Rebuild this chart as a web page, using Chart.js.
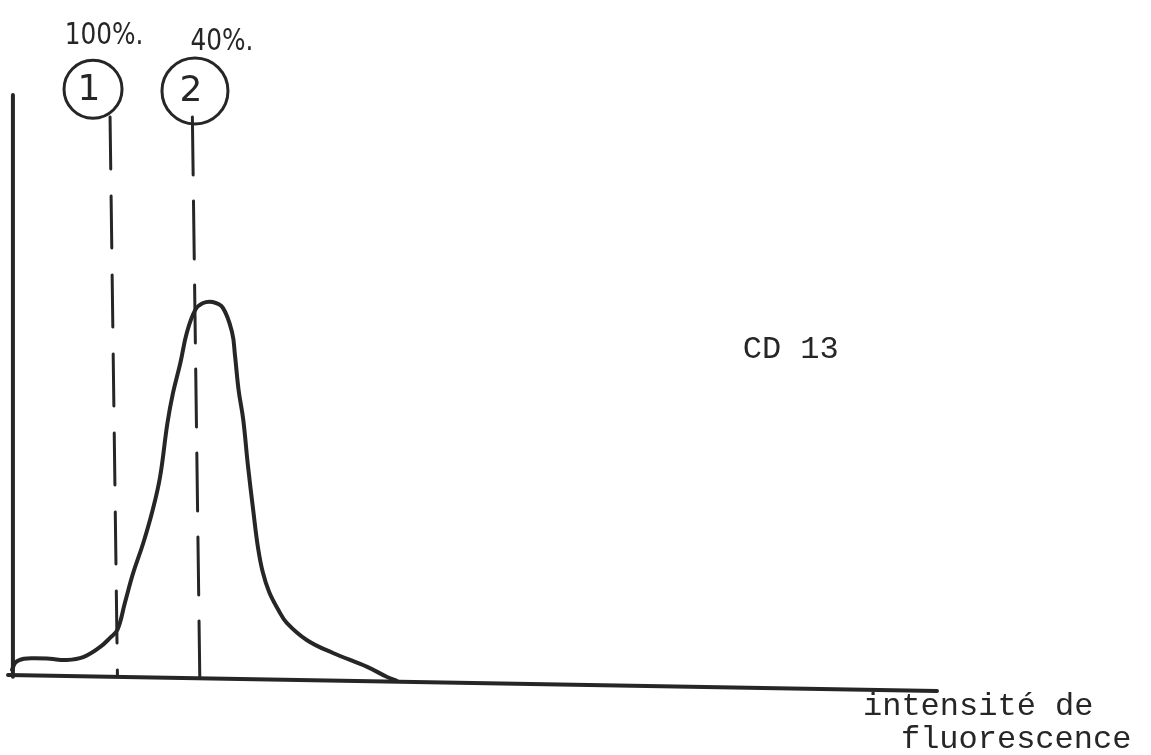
<!DOCTYPE html>
<html>
<head>
<meta charset="utf-8">
<script src="https://cdn.jsdelivr.net/npm/chart.js@4.4.1/dist/chart.umd.min.js"></script>
<style>
  html, body { margin: 0; padding: 0; background: #ffffff; }
  #graph { display: block; }
</style>
</head>
<body>
<canvas id="graph" width="1151" height="755"></canvas>
<script>
// Fluorescence histogram (CD 13): intensity (arbitrary units) vs. number of cells
const intensite = [0, 0.4, 1.3, 2.5, 4.1, 5.9, 7.7, 9.5, 10.6, 11.4, 12.2, 13.1, 14.2, 15.2,
  16.0, 16.8, 17.4, 18.2, 18.9, 19.8, 20.6, 21.7, 22.8, 23.8, 24.1, 24.5, 25.0, 25.5,
  26.1, 26.6, 27.1, 27.8, 28.8, 29.7, 31.9, 34.7, 38.4, 40.5, 41.6];
const nombreCellules = [0.9, 2.2, 2.8, 2.9, 2.8, 2.6, 3.1, 4.8, 6.4, 7.8, 12.4, 17.6, 22.8, 28.4,
  34.1, 43.4, 48.6, 53.8, 59.0, 62.9, 64.1, 64.3, 63.3, 59.0, 55.2, 49.1, 44.0, 36.2,
  28.1, 21.9, 17.8, 14.3, 11.2, 9.0, 6.0, 3.8, 1.4, -0.3, -1.0];

// Gates 1 and 2 (hand-drawn, slightly slanted): x at top and bottom of each line
const seuilsHaut = [10.6, 19.5];
const seuilsBas = [11.4, 20.3];
const seuilsNumeros = ['1', '2'];
const seuilsPourcentages = ['100%.', '40%.'];
const marqueur = 'CD 13';
const titreAxeX = ['intensité de', 'fluorescence'];

const INK = '#262626';

const pts = (xs, ys) => xs.map((v, i) => ({ x: v, y: ys[i] }));

// Gate dashed lines
const gate = (i, dash) => ({
  label: 'seuil ' + seuilsNumeros[i],
  data: [{ x: seuilsHaut[i], y: 96.2 }, { x: seuilsBas[i], y: -0.3 }],
  showLine: true,
  borderColor: INK,
  borderWidth: 3,
  borderDash: dash,
  borderCapStyle: 'round',
  pointRadius: 0,
  order: 2
});

// Annotation texts placed through the scales
const annotations = {
  id: 'annotations',
  afterDatasetsDraw(chart) {
    const { ctx, scales: { x, y } } = chart;
    ctx.save();
    ctx.fillStyle = INK;

    // gate numbers inside the circles
    ctx.font = '36px "DejaVu Sans"';
    ctx.textAlign = 'center';
    ctx.textBaseline = 'middle';
    const centres = chart.data.datasets[5].data;
    centres.forEach((c, i) => {
      ctx.fillText(seuilsNumeros[i], x.getPixelForValue(c.x) - 4, y.getPixelForValue(c.y) + 1);
    });

    // percentages above the circles (narrow hand lettering)
    const pctPos = [{ x: 9.95, y: 108.8 }, { x: 22.7, y: 107.8 }];
    ctx.textBaseline = 'alphabetic';
    seuilsPourcentages.forEach((t, i) => {
      const px = x.getPixelForValue(pctPos[i].x);
      const py = y.getPixelForValue(pctPos[i].y);
      ctx.save();
      ctx.translate(px, py);
      ctx.scale(0.8, 1);
      ctx.font = '31px "DejaVu Sans"';
      ctx.fillText(t, 0, 0);
      ctx.restore();
    });

    // typed labels
    ctx.font = '32px "Liberation Mono"';
    ctx.textAlign = 'left';
    ctx.fillText(marqueur, x.getPixelForValue(79.0), y.getPixelForValue(54.7));
    ctx.fillText(titreAxeX[0], x.getPixelForValue(92.0), y.getPixelForValue(-6.9));
    ctx.fillText(titreAxeX[1], x.getPixelForValue(96.1), y.getPixelForValue(-12.6));
    ctx.restore();
  }
};

new Chart(document.getElementById('graph'), {
  type: 'scatter',
  data: {
    datasets: [
      {
        label: 'axe des ordonnées',
        data: [{ x: 0.1, y: -0.3 }, { x: 0.1, y: 100 }],
        showLine: true, borderColor: INK, borderWidth: 4, borderCapStyle: 'round',
        pointRadius: 0, order: 3
      },
      {
        label: 'axe des abscisses',
        data: [{ x: -0.43, y: 0 }, { x: 100, y: -2.76 }],
        showLine: true, borderColor: INK, borderWidth: 4, borderCapStyle: 'round',
        pointRadius: 0, order: 3
      },
      {
        label: 'CD 13',
        data: pts(intensite, nombreCellules),
        showLine: true,
        borderColor: INK,
        borderWidth: 4,
        borderCapStyle: 'round',
        borderJoinStyle: 'round',
        tension: 0.4,
        pointRadius: 0,
        order: 1
      },
      gate(0, [52, 27]),
      gate(1, [58, 26]),
      {
        label: 'repères',
        data: [{ x: 8.76, y: 101.0 }, { x: 19.78, y: 100.7 }],
        pointRadius: [29, 33],
        pointBorderWidth: 3,
        pointBorderColor: INK,
        pointBackgroundColor: 'rgba(0,0,0,0)',
        pointHoverRadius: [29, 33],
        order: 0
      }
    ]
  },
  options: {
    responsive: false,
    animation: false,
    devicePixelRatio: 1,
    layout: { autoPadding: false, padding: { left: 12, right: 214, top: 2.2, bottom: 62.6 } },
    scales: {
      x: { type: 'linear', min: 0, max: 100, display: false },
      y: { type: 'linear', min: -3, max: 116, display: false }
    },
    plugins: {
      legend: { display: false },
      tooltip: { enabled: false }
    },
    elements: { line: { clip: false } },
    clip: false
  },
  plugins: [annotations]
});
</script>
</body>
</html>
